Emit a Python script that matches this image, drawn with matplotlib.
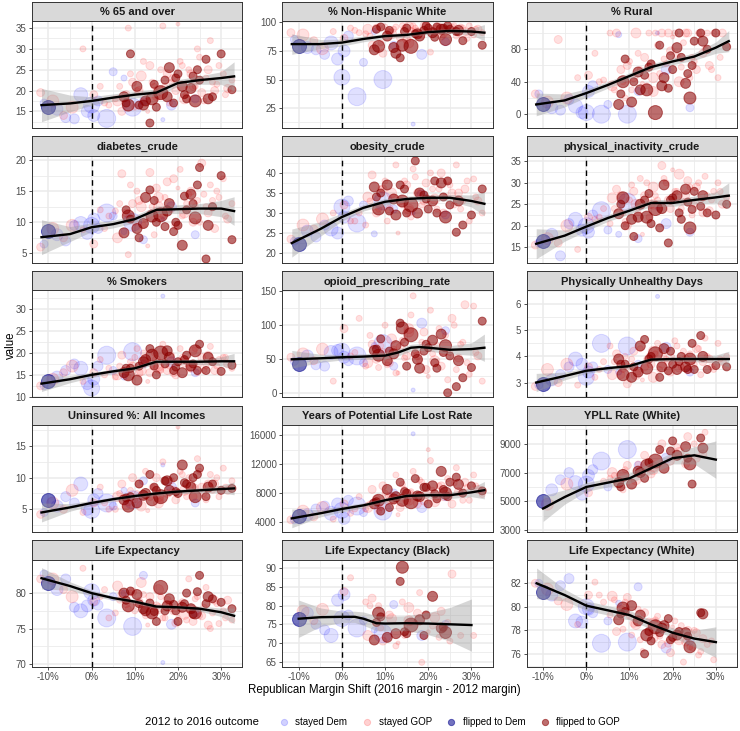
import numpy as np
import matplotlib.pyplot as plt
from matplotlib.lines import Line2D

plt.rcParams['font.family'] = ['Liberation Sans', 'DejaVu Sans']

nan = np.nan

# one entry per county: Republican margin shift (%), marker radius (px), outcome
shift = [-10.0,
         -11.0, -8.0, -6.0, -4.0, -2.5, -1.0, 0.0, 0.5, 1.5, 3.5, 5.0, 7.5, 9.5, 12.0, 16.5, 18.5, 24.0,
         -11.8, -9.0, -6.5, -4.5, -2.0, 0.5, 2.0, 4.0, 6.0, 7.0, 8.5, 9.5, 10.5, 11.5, 12.5, 13.5, 14.5, 15.5,
         16.5, 17.5, 18.5, 19.5, 20.5, 21.5, 22.5, 23.5, 24.5, 25.5, 26.5, 27.5, 28.5, 29.5, 30.5, 31.5, 32.5,
         5.5, 13.0, 20.0,
         7.5, 8.5, 9.0, 10.5, 11.0, 12.5, 13.5, 14.0, 15.0, 16.0, 17.0, 18.0, 19.0, 20.0, 21.0, 22.0, 23.0,
         24.0, 24.5, 25.0, 26.5, 28.0, 30.0, 32.5,
         3.0, 6.5, 8.0, 9.0, 10.0, 11.0, 12.0, 14.0, 15.0, 16.0, 17.0, 18.0, 19.0, 21.0, 22.0, 23.0,
         24.0, 25.0, 26.0, 27.0, 28.0, 29.0, 31.0, 15.5,
         8.0, 12.0, 14.5, 17.5, 19.5, 21.5, 23.5, 27.0]
radius = [7,
          4, 6, 5, 5, 7, 6, 8, 6, 5, 9, 4, 3, 9, 4, 2, 5, 4,
          4, 6, 4, 6, 3, 4, 3, 3, 5, 4, 3, 4, 3, 5, 3, 4, 3, 5, 3, 4, 3, 4, 3, 5, 3, 4, 3, 4, 3, 3,
          4, 3, 3, 4, 3, 3, 2, 2,
          5, 6, 4, 5, 4, 5, 4, 6, 4, 7, 4, 5, 4, 4, 5, 4, 5, 6, 4, 4, 4, 4, 4, 4,
          3, 3, 4, 3, 3, 4, 3, 3, 4, 3, 3, 3, 4, 3, 3, 4, 3, 3, 3, 4, 3, 3, 3, 5,
          4, 5, 4, 5, 4, 4, 4, 5]
outcome = (['flipped to Dem'] + ['stayed Dem'] * 17 + ['stayed GOP'] * 38 + ['flipped to GOP'] * 24
           + ['stayed GOP'] * 24 + ['flipped to GOP'] * 8)

titles = ['% 65 and over', '% Non-Hispanic White', '% Rural',
          'diabetes_crude', 'obesity_crude', 'physical_inactivity_crude',
          '% Smokers', 'opioid_prescribing_rate', 'Physically Unhealthy Days',
          'Uninsured %: All Incomes', 'Years of Potential Life Lost Rate', 'YPLL Rate (White)',
          'Life Expectancy', 'Life Expectancy (Black)', 'Life Expectancy (White)']

values = [
    [16,
     17, 15.5, 13.5, 13.2, 19, 15, 16.5, 14, 17.5, 13.3, 24.5, 23, 16, 17.5, 13, 16.5, 18,
     19.5, 17.5, 14, 16, 30, 19, 21, 16.5, 17.5, 15, 35, 22, 20, 23.5, 18, 26, 21, 19, 35.5, 24,
     22, 20, 27, 18, 25, 21, 30, 19.5, 23, 32, 20, 26, 24, 20.5, 22.5, 18, 15, 36,
     18.5, 16.5, 28.8, 21, 16.5, 17.5, 12.2, 18, 16, 19.5, 22.5, 25.5, 17, 24, 21, 18, 20.5, 17.5,
     25, 22.5, 27.5, 18.5, 28.8, 20.2,
     17, 21, 19, 24, 16, 20, 27, 22, 18.5, 25, 21, 17, 23, 26, 19, 24, 21, 28, 17.5, 25, 22, 21.5, 19, 20,
     17, 16.5, 21.5, 18.5, 23, 19, 23.5, 18],
    [79,
     85, 78, 76, 72, 82, 68, 52, 75, 88, 35, 65, 92, 50, 80, 11, 72, 83,
     91, 89, 84, 77, 92, 86, 95, 91, 94, 80, 96, 73, 93, 90, 96, 87, 95, 82, 97, 92,
     88, 96, 74, 93, 97, 90, 94, 95, 88, 96, 92, 97, 89, 94, 91, 90, 78, 98,
     76, 79, 96, 88, 93, 73, 69, 80, 95, 79, 90, 88, 93, 95, 91, 96, 94, 85, 97, 94, 92, 84, 92, 80,
     93, 88, 95, 82, 96, 91, 94, 97, 85, 93, 95, 90, 97, 92, 96, 88, 95, 93, 97, 91, 95, 86, 94, 96,
     94, 78, 92, 90, 97, 87, 95, 93],
    [13,
     25, 8, 5, 18, 10, 2, 2, 28, 35, 0, 12, 98, 0, 28, 100, 55, 8,
     25, 15, 92, 20, 45, 48, 75, 42, 35, 100, 40, 60, 30, 100, 55, 70, 100, 45, 85, 100,
     62, 78, 100, 40, 88, 100, 70, 55, 100, 80, 60, 100, 45, 100, 85, 100, 38, 95,
     12, 40, 68, 15, 40, 30, 48, 30, 62, 2, 85, 45, 32, 55, 82, 70, 38, 20, 60, 90, 100, 80, 100, 83,
     40, 30, 55, 20, 65, 45, 75, 35, 60, 100, 50, 68, 100, 72, 58, 100, 45, 65, 100, 75, 100, 55, 70, 28,
     25, 52, 58, 35, 72, 100, 50, 90],
    [8.6,
     6.5, 8, 7, 9.5, 9.8, 8.2, 9.5, 10.5, 9, 11.5, 11, 8.5, 10, 7.2, 10.5, 12.5, 8,
     6, 9, 7.5, 9.5, 8.8, 6.5, 12, 11, 7.5, 17.8, 4.8, 13, 15, 12.5, 10.5, 18, 8, 14, 11, 16.5,
     12, 9.5, 18.5, 11.5, 14.5, 10, 13.5, 19.5, 12.5, 16, 9, 14, 17, 10.5, 13, 11.8, 6.2, 15.5,
     8.3, 11, 10.5, 9, 7.5, 14, 15.2, 11, 10, 11.2, 9.3, 13, 8.5, 9.5, 6.3, 12, 14.5, 10.7,
     16, 18.8, 4.1, 12.5, 17.5, 7.2,
     9, 13, 11.5, 16, 10, 13.5, 9.5, 12.5, 15.5, 10.5, 14, 12, 17, 11, 13, 15, 12.5, 10, 14.5, 11.5,
     13.5, 15, 11, 12.5,
     12, 9.8, 13.5, 11.8, 10, 14.2, 13, 9.5],
    [22.2,
     23, 25.5, 24, 27, 26, 25, 31.5, 29, 33, 27.5, 32, 24.8, 33, 31, 30, 34.5, 29.5,
     23.5, 27, 26, 28.5, 30, 32, 28, 30, 34, 39.5, 31, 36, 28, 35, 42, 33, 38, 30.5, 41, 35,
     32, 37.5, 40, 33.5, 36, 30, 38, 35, 42, 31, 36, 28, 38.5, 33, 30, 27, 25, 34,
     36.5, 31, 35, 37, 30.5, 29.5, 37, 33, 30, 32, 43, 35, 34.5, 31, 33, 30, 37.5, 29,
     38, 32, 25.2, 27, 29.5, 36,
     28, 33, 30, 36, 38, 31, 34, 32, 37, 29, 39, 35, 33, 36, 31, 40, 34, 37, 32, 35, 33, 38, 34, 31,
     34, 33.5, 36, 30, 33.5, 38, 34, 33],
    [16.5,
     16, 18, 13, 20.5, 21.5, 19, 20, 18.5, 22.5, 23.5, 19, 18, 25.5, 17, 24, 20.5, 18.5,
     15.5, 17, 16, 20, 14.5, 22, 21.5, 24, 26.5, 28.5, 23, 20, 29.5, 25, 31, 27, 22, 29, 26, 34,
     30, 24, 28, 32, 25.5, 30.5, 22.5, 29, 26, 31.5, 23.5, 28, 30, 25, 26.5, 20.5, 18, 33,
     22.8, 26.5, 20, 21.5, 17.5, 25, 26, 22, 20.5, 24, 19.5, 29.5, 16, 26.5, 27, 21.5, 28.5, 19.5,
     23.8, 28, 24.5, 23, 22.5, 25,
     22, 24, 27, 21, 26, 28, 23, 30, 25, 27, 24, 31, 26, 28, 24, 27, 29, 25, 30, 23, 27, 26, 28, 25,
     25, 22, 27.5, 24, 26, 23, 25.5, 27],
    [13.7,
     12.5, 14.5, 16, 17.5, 16.5, 13, 12, 14, 17, 19.5, 16, 14.5, 20.3, 17.5, 33, 18, 15.5,
     12.5, 14, 15.5, 17, 13.5, 15.5, 18.5, 16.5, 15, 19.5, 14.5, 17, 21, 16, 18.5, 15.5, 20, 17, 22, 16,
     19.5, 15, 21, 18, 16.5, 20.5, 15.5, 19, 17, 21.5, 16, 18.5, 19, 17.5, 16.5, 14.5, 13.5, 17.5,
     15.5, 15, 16.5, 13.8, 17, 18.5, 21, 19.5, 15, 20, 17.5, 19, 16, 18, 15.5, 19.5, 17, 20.5,
     16, 22, 16, 18, 15.8, 17.2,
     15, 17, 16, 18, 19, 15.5, 20, 17, 18.5, 16, 20.5, 17, 15.5, 19, 18, 16.5, 21, 17.5, 16, 19.5,
     18, 17, 19, 16.5,
     16.5, 18, 17, 20.5, 16.8, 18.5, 17.5, 19],
    [43,
     47, 55, 42, 40, 60, 63, 62, 53, 48, 55, 45, 70, 73, 40, 5, 103, 92,
     53, 58, 48, 65, 18, 95, 55, 110, 45, 72, 38, 60, 42, 80, 30, 68, 52, 90, 143, 55,
     75, 35, 122, 48, 95, 62, 20, 110, 35, 72, 130, 28, 128, 55, 18, 40, 30, 25,
     63, 56, 80, 48, 62, 70, 103, 96, 40, 86, 58, 37, 62, 67, 78, 37, 87, 70, 1, 55, 10, 23, 38, 106,
     60, 85, 50, 70, 100, 45, 65, 78, 55, 115, 62, 48, 90, 58, 70, 40, 85, 60, 100, 52, 75, 45, 60, 95,
     65, 58, 75, 50, 72, 45, 60, 48],
    [2.95,
     2.9, 3.1, 3.3, 3.6, 3.9, 3.7, 3.2, 3.4, 3.6, 4.5, 3.5, 3.4, 4.4, 3.7, 6.3, 4.35, 3.4,
     2.85, 3.5, 3.0, 3.7, 2.9, 3.6, 3.2, 3.8, 3.3, 4.1, 3.5, 2.95, 3.9, 3.3, 4.3, 3.6, 4.0, 3.2, 4.5, 3.7,
     3.9, 3.4, 4.6, 3.6, 4.2, 3.5, 3.8, 4.3, 3.3, 4.7, 3.9, 3.5, 4.5, 3.8, 4.0, 4.4, 3.1, 4.0,
     3.9, 3.3, 3.7, 3.2, 3.6, 4.4, 4.65, 3.55, 4.0, 4.1, 3.2, 4.3, 3.45, 3.7, 3.5, 4.0, 3.6, 3.9,
     4.5, 3.5, 4.8, 3.5, 3.65, 3.6,
     3.5, 3.8, 3.3, 4.0, 3.6, 4.2, 3.4, 3.9, 3.7, 4.1, 3.5, 4.0, 3.8, 4.4, 3.6, 3.9, 4.1, 3.7, 4.3, 3.8,
     4.0, 3.6, 3.9, 4.2,
     3.7, 3.4, 3.9, 3.6, 4.2, 3.8, 3.5, 4.0],
    [6.4,
     4.5, 5.5, 7, 6, 9, 5, 4.8, 6.5, 7.5, 6, 5.5, 8, 6.5, 9.5, 12, 8.5, 6,
     4.2, 6, 5, 8, 4.5, 6, 8.5, 5, 7, 9, 6, 10, 7.5, 5.5, 11, 7, 8.5, 6, 12.5, 7.5,
     9.5, 6.5, 11, 8, 10, 7, 13, 8.5, 6.5, 10.5, 9, 7, 11.5, 8, 9.5, 5, 4.8, 18,
     6.5, 5.5, 7, 6, 9, 7.5, 10.5, 6.5, 8, 7, 9.5, 8, 10, 7.5, 12, 9, 8.5, 7, 10.5, 11.5, 7, 9, 8, 8.3,
     6, 7.5, 5.5, 8, 6.5, 9, 7, 8.5, 10, 6.5, 9.5, 7.5, 8, 10.5, 7, 9, 8.5, 11, 7.5, 9, 8, 10, 8.5, 7,
     6.8, 7.2, 8.5, 9.5, 7.8, 9.2, 10, 8.5],
    [4800,
     4300, 5000, 5800, 6200, 5200, 6500, 5600, 4500, 7000, 6200, 5300, 6800, 5500, 8000, 16200, 6000, 7500,
     4300, 5500, 4700, 6000, 4400, 6500, 5200, 7500, 6000, 8500, 5500, 9000, 6800, 7200, 10500, 6000,
     8500, 7000, 11000, 6500, 9500, 7800, 12500, 6800, 9000, 7500, 10000, 6500, 11500, 8000, 9500, 7000,
     10500, 8500, 7800, 5800, 5000, 14000,
     6500, 7000, 5500, 8500, 6000, 7500, 9500, 7000, 8000, 6800, 10000, 7500, 8800, 6500, 9000, 7200,
     11000, 8000, 7500, 9500, 10200, 8000, 9000, 8300,
     5800, 6500, 7200, 6000, 8000, 7500, 6800, 9200, 7000, 8200, 7600, 9800, 6900, 8400, 7400, 9000,
     8000, 7600, 9400, 8200, 7000, 8800, 9000, 7800,
     6800, 7200, 8200, 7600, 8800, 7900, 8500, 9200],
    [5000,
     nan, 5800, 6500, 7000, 6300, 5500, 6200, 6800, 7200, 7800, 6000, nan, 8600, 7500, nan, 8000, nan,
     nan, 4800, nan, 6200, nan, 5600, nan, 6400, 7000, nan, 5800, 7500, nan, 6500, nan, 8200, nan, 7200,
     nan, 9000, nan, 7800, nan, 8400, nan, 9500, nan, 8000, nan, 9800, nan, nan, nan, nan, nan,
     6600, nan, nan,
     6300, 6800, nan, 6200, nan, 7000, 6600, 7500, nan, 7800, 8600, 7300, nan, 9200, 8200, nan,
     8800, 7600, 6200, nan, 9400, nan, nan, nan,
     nan, 6800, nan, 7200, nan, nan, 7600, nan, 6900, nan, 8500, nan, nan, 8800, nan, 7600,
     nan, 9000, nan, 8300, nan, nan, nan, 7400,
     6000, 7100, 7700, nan, 8500, nan, 8000, 8700],
    [81.4,
     82.7, 80.5, 82, 78, 77.5, 78.2, 80.2, 79, 78.3, 76.5, 79.5, 80, 75.3, 82.5, 70.2, 75.6, 77.2,
     82, 82, 80.5, 79.5, 83.5, 78.8, 79.5, 76.5, 81, 79.8, 77.8, 80.2, 78.5, 81.5, 76.8, 79.5, 78, 80.5,
     76.5, 79, 77.8, 75.8, 78.5, 77, 82, 76, 79.5, 76.8, 80.8, 75, 79, 75.7, 77.5, 79, 76.2,
     77.2, 75.5, 76.6,
     80, 78.2, 80.3, 79.8, 78.5, 77.5, 78.6, 77.2, 76, 80.8, 77.5, 79.2, 78.4, 76, 78, 80, 77.8, 77.2,
     80.2, 82.5, 78.5, 79.2, 78.7, 77.8,
     80.5, 79, 78.5, 80, 77.5, 78.8, 79.8, 77, 78.2, 79.5, 76.5, 78.5, 77.5, 78.8, 76.2, 77.8,
     79.2, 76.8, 78, 75.5, 77.2, 78.5, 76.5, 77.8,
     79, 77.8, 77.4, 78.2, 77.5, 78.5, 77, 79.5],
    [76.5,
     nan, 78, 75, 73.5, 72, 81.5, 76.5, 83, 77.5, 74, 76, 73.5, 72.5, 80.3, nan, 72, 75,
     nan, 78.5, 76, 79, nan, 83.8, 87.5, nan, 72, 82, 80, 70.5, nan, 76.5, 69.2, nan, 72, 79.5,
     nan, 78, 64.8, 77.3, nan, 76.8, 71.5, nan, 75.5, 88.5, nan, 72, nan, nan, 72, nan, nan,
     81, 70, 73,
     70.8, 78, 77, 71.5, nan, 72.5, 86.5, 90.3, 72.5, 74.8, nan, 76.2, 72, nan, 82.5, nan, 74, 72.8,
     nan, nan, nan, nan, nan, nan,
     nan, 80, nan, 74, nan, 77.5, nan, 81, nan, 75.5, nan, 83.5, nan, 74.5, nan, 78.5,
     nan, 70.5, nan, nan, nan, nan, nan, 76,
     75.5, nan, 73, nan, 77.5, nan, 74.2, nan],
    [81.3,
     82, 81, 81.8, 82.4, 78.8, 78.7, 80, 79.8, 79.5, 76.9, 78.8, 80.3, 77, 81.7, nan, 76.5, 77.1,
     82, 81.5, 80.5, 80.2, 78.5, 81, 82.1, 80.4, 80.9, 77.9, 78.1, 80.8, 77.6, 78.5, 77.2, 79.5, 78.8, 77.4,
     79.2, 76.8, 78.3, 76.1, 78.8, 77.2, 75.3, 78.0, 76.5, 77.8, 76.2, nan, nan, 75.5, nan, nan, nan,
     79.3, 76.3, 78.3,
     78.9, 79.9, 79.6, 80.1, nan, 79.3, 76.0, 77.6, 77.1, 78.3, 77.8, 78.4, 79.0, 77.4, 77.6, nan,
     77.8, 76.6, nan, nan, 79.5, nan, nan, nan,
     81, 80.6, 79.8, 80.4, 79.2, 78.6, 79.8, 77.9, 78.3, 78.9, 77.5, 78.2, 76.9, 77.9, 78.4, 77.0,
     76.6, 78.0, 75.9, 77.3, 76.8, 77.1, nan, 78.6,
     79.4, 78.8, 77.9, 78.2, 77.2, 77.9, 77.5, 79.4],
]

# loess fit: x, fitted value, half width of the 95% band
kx = [-11.6, -5, 0, 5, 10, 15, 20, 25, 30, 33]
curves = [
    (kx, [16.5, 16.9, 17.5, 18.3, 19.0, 19.5, 21.8, 22.5, 23.0, 23.4], [4, 2, 1, 0.9, 0.8, 0.8, 0.8, 1, 1.5, 3.5]),
    (kx, [81, 81, 82.3, 85.5, 88, 89, 91.5, 92.5, 92, 91], [9, 4, 3, 2.5, 2, 2, 2, 2, 3, 7]),
    (kx, [12, 17, 26, 36, 47, 58, 65, 71, 82, 90], [14, 8, 5, 4, 4, 4, 4, 4.5, 7, 13]),
    (kx, [7.6, 8.1, 9.2, 9.7, 10.5, 12.0, 12.1, 12.2, 12.2, 11.8], [2.8, 1.2, 0.7, 0.6, 0.6, 0.6, 0.7, 0.8, 1.3, 2.3]),
    (kx, [22.5, 26, 29, 31.3, 32.8, 33.5, 33.8, 33.8, 33.0, 32.3], [3.5, 1.8, 1, 0.8, 0.8, 0.7, 0.7, 0.8, 1.5, 3]),
    ([-11.6, -5, 0, 5, 10, 15, 17, 20, 25, 30, 33], [15.8, 17.7, 19.8, 21.8, 23.5, 25.3, 25.3, 25.3, 26, 26.6, 27],
     [3.5, 1.3, 1, 0.8, 0.8, 0.8, 0.8, 0.8, 0.9, 1.3, 3]),
    (kx, [13.0, 14.0, 15.0, 15.8, 16.5, 18.0, 18.0, 18.0, 18.1, 18.1], [1.8, 0.8, 0.6, 0.5, 0.5, 0.5, 0.5, 0.6, 1, 1.8]),
    ([-11.6, -5, 0, 5, 10, 13, 16, 18, 20, 25, 30, 33], [50, 51.5, 53, 54, 55.5, 60, 67, 68, 67, 64, 65, 67],
     [13, 6, 4, 4, 5, 5, 5, 5, 5, 6, 9, 20]),
    (kx, [3.0, 3.25, 3.45, 3.55, 3.63, 3.88, 3.9, 3.9, 3.9, 3.9], [0.35, 0.15, 0.1, 0.08, 0.08, 0.08, 0.08, 0.1, 0.15, 0.3]),
    (kx, [4.5, 5.3, 6.0, 6.6, 7.1, 7.5, 7.8, 8.0, 8.2, 8.3], [1.5, 0.6, 0.4, 0.35, 0.35, 0.35, 0.35, 0.4, 0.6, 1.0]),
    (kx, [4500, 5200, 5800, 6300, 7000, 7600, 7700, 7700, 8100, 8400], [1300, 500, 400, 350, 350, 350, 400, 450, 600, 1200]),
    ([-10, -5, 0, 5, 10, 15, 20, 25, 30], [4500, 5300, 6000, 6300, 6600, 7300, 8000, 8200, 7900],
     [900, 500, 300, 300, 350, 400, 400, 600, 1300]),
    (kx, [82.1, 81, 80.0, 79.3, 78.8, 78.1, 78.0, 77.8, 77.3, 76.8], [1.5, 0.6, 0.4, 0.3, 0.3, 0.3, 0.3, 0.35, 0.6, 1.1]),
    ([-10, -5, 0, 3, 5, 8, 10, 15, 20, 25, 30], [76.5, 76.9, 77, 77, 76.5, 75.3, 75.2, 75.3, 75.2, 75.0, 74.8],
     [5, 2.5, 1.5, 1.5, 1.8, 2, 2, 2, 3, 4.5, 7]),
    ([-11.5, -5, 0, 5, 10, 15, 20, 25, 30], [82.0, 81.0, 80.1, 79.7, 79.3, 78.5, 77.8, 77.3, 77.0],
     [1.3, 0.5, 0.4, 0.4, 0.4, 0.4, 0.4, 0.7, 1.3]),
]

ylims = [(11.0, 36.7), (7.6, 101.2), (-17, 114.8), (3.5, 20.7), (17.6, 44.3), (11.4, 36.3),
         (9.85, 34.3), (-5.8, 151), (2.43, 6.53), (1.4, 18.3), (2600, 17400), (2860, 10300),
         (69.6, 84.7), (63.6, 92.3), (74.9, 84.0)]
yticks = [[15, 20, 25, 30, 35], [25, 50, 75, 100], [0, 40, 80], [5, 10, 15, 20], [20, 25, 30, 35, 40],
          [15, 20, 25, 30, 35], [10, 15, 20, 25, 30], [0, 50, 100, 150], [3, 4, 5, 6], [5, 10, 15],
          [4000, 8000, 12000, 16000], [3000, 5000, 7000, 9000], [70, 75, 80],
          [65, 70, 75, 80, 85, 90], [76, 78, 80, 82]]
xticks = [-10, 0, 10, 20, 30]
xtick_labels = ['-10%', '0%', '10%', '20%', '30%']

styles = {
    'stayed Dem': ('#0000FF', 0.12),
    'stayed GOP': ('#FF0000', 0.12),
    'flipped to Dem': ('#00008B', 0.55),
    'flipped to GOP': ('#8B0000', 0.57),
}

W, H = 740, 731
fig = plt.figure(figsize=(W / 100, H / 100), dpi=100)


def rect(x0, y0, w, h):
    return [x0 / W, 1 - (y0 + h) / H, w / W, h / H]


col_left = [32, 282.3, 526.7]
panel_w, strip_h, plot_h = 210.3, 19.5, 107
row_step, top0 = 134.7, 1.5
grid_c = '#EBEBEB'
x = np.array(shift)
s = (2 * np.array(radius) * 0.72) ** 2
grp = np.array(outcome)

for i, title in enumerate(titles):
    r, c = divmod(i, 3)
    x0 = col_left[c]
    st = top0 + r * row_step

    sax = fig.add_axes(rect(x0, st, panel_w, strip_h))
    sax.set_facecolor('#D9D9D9')
    sax.set_xticks([])
    sax.set_yticks([])
    for sp in sax.spines.values():
        sp.set_color('#333333')
        sp.set_linewidth(0.7)
    sax.text(0.5, 0.45, title, ha='center', va='center', fontsize=8, fontweight='bold', color='#1A1A1A')

    ax = fig.add_axes(rect(x0, st + strip_h, panel_w, plot_h))
    ax.set_xlim(-13.8, 34.9)
    lo, hi = ylims[i]
    ax.set_ylim(lo, hi)

    # grid
    yt = yticks[i]
    step = yt[1] - yt[0]
    yminor = [t - step / 2 for t in yt] + [yt[-1] + step / 2]
    for t in yminor:
        if lo < t < hi:
            ax.axhline(t, color=grid_c, lw=0.6, zorder=0)
    for t in yt:
        ax.axhline(t, color=grid_c, lw=1.1, zorder=0)
    for t in [-5, 5, 15, 25]:
        ax.axvline(t, color=grid_c, lw=0.6, zorder=0)
    for t in xticks:
        ax.axvline(t, color=grid_c, lw=1.1, zorder=0)

    y = np.array(values[i], dtype=float)
    for g in ['stayed Dem', 'stayed GOP', 'flipped to Dem', 'flipped to GOP']:
        m = (grp == g) & ~np.isnan(y)
        col, a = styles[g]
        ax.scatter(x[m], y[m], s=s[m], color=col, edgecolors=col, alpha=a, linewidths=0.7, zorder=2)

    ax.axvline(0, color='black', lw=1.0, ls=(0, (4, 3)), zorder=3)

    cx, cy, se = curves[i]
    cy = np.array(cy)
    se = np.array(se)
    ax.fill_between(cx, cy - se, cy + se, color='#999999', alpha=0.4, lw=0, zorder=4)
    ax.plot(cx, cy, color='black', lw=1.7, zorder=5)

    ax.set_yticks(yt)
    ax.set_yticklabels([f'{t:g}' for t in yt])
    ax.set_xticks(xticks)
    ax.tick_params(axis='y', length=2.5, width=0.6, color='#333333', labelsize=7, labelcolor='#4D4D4D', pad=1.5)
    if r == 4:
        ax.set_xticklabels(xtick_labels)
        ax.tick_params(axis='x', length=2.5, width=0.6, color='#333333', labelsize=7, labelcolor='#4D4D4D', pad=1.5)
    else:
        ax.tick_params(axis='x', length=0, labelbottom=False)
    for sp in ax.spines.values():
        sp.set_color('#333333')
        sp.set_linewidth(0.7)
        sp.set_zorder(6)

fig.text(384.5 / W, 1 - 690 / H, 'Republican Margin Shift (2016 margin - 2012 margin)',
         ha='center', va='center', fontsize=8.3)
fig.text(11 / W, 1 - 345 / H, 'value', ha='center', va='center', rotation=90, fontsize=8.3)

handles = []
labels = []
for g in ['stayed Dem', 'stayed GOP', 'flipped to Dem', 'flipped to GOP']:
    col, a = styles[g]
    handles.append(Line2D([], [], marker='o', ls='', markersize=4.5, markerfacecolor=col,
                          markeredgecolor=col, markeredgewidth=0.7, alpha=max(a, 0.18)))
    labels.append(g)
fig.text(145 / W, 1 - 722 / H, '2012 to 2016 outcome', ha='left', va='center', fontsize=8.2)
fig.legend(handles, labels, loc='center left', bbox_to_anchor=(274 / W, 1 - 722 / H), ncol=4,
           frameon=False, fontsize=7, handletextpad=0.6, columnspacing=1.4, borderaxespad=0,
           handlelength=1.2)

fig.savefig('out.png', dpi=100)
